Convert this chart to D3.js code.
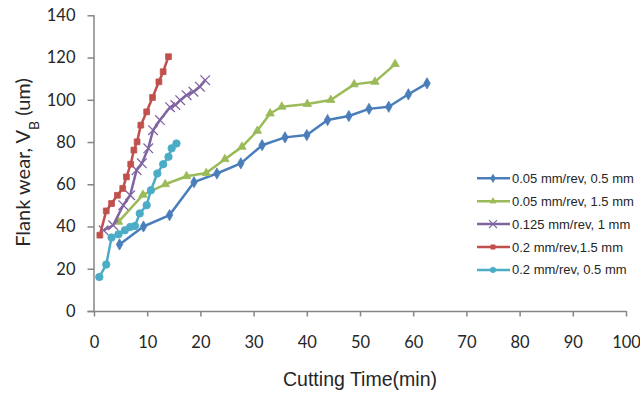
<!DOCTYPE html>
<html><head><meta charset="utf-8">
<script src="https://cdn.jsdelivr.net/npm/d3@7"></script>
<style>body{margin:0;background:#fff}svg{display:block}</style>
</head><body>
<svg id="c" width="640" height="396"></svg>
<script>
const seriesNames = ["0.05 mm/rev, 0.5 mm","0.05 mm/rev, 1.5 mm","0.125 mm/rev, 1 mm","0.2 mm/rev,1.5 mm","0.2 mm/rev, 0.5 mm"];
const seriesColors = ["#4A7EBB","#9BBB59","#8064A2","#C0504D","#4BACC6"];
const seriesSymbols = ["diamond","triangle","x","square","circle"];

const blueT = [4.8,9.3,14.2,18.8,23.1,27.6,31.6,35.9,40.0,43.9,47.9,51.7,55.4,59.1,62.6];
const blueV = [31.5,40,45.4,61,65.1,69.9,78.5,82.2,83.3,90.4,92.3,95.7,96.7,102.6,107.8];
const greenT = [4.6,9.2,13.4,17.4,21.1,24.6,27.8,30.7,33.1,35.3,40.1,44.5,48.9,52.8,56.6];
const greenV = [42.2,55,60,63.8,65.3,71.9,77.7,85.3,93.5,96.7,98,99.9,107.3,108.5,116.9];
const purpleT = [1.8,3.6,5.5,6.8,8.0,9.0,10.2,11.1,12.4,14.3,15.3,16.2,17.4,18.7,19.9,20.9];
const purpleV = [38.2,40.6,50.1,54.8,66.7,69.9,77,85.6,90.4,96.5,97.5,99.8,102.2,103.8,106.2,109.3];
const redT = [1.1,2.3,3.3,4.4,5.4,6.1,6.9,7.5,8.1,8.8,9.9,11.0,12.2,13.0,14.0];
const redV = [35.9,47.4,50.9,54.8,58,63.5,69.5,76.2,80.1,88,94.3,101.1,108.5,113.3,120.4];
const cyanT = [1.0,2.3,3.3,4.6,5.8,6.8,7.7,8.6,9.9,10.7,11.9,13.0,14.0,14.6,15.5];
const cyanV = [16.1,22,34.8,36.3,38.2,39.8,40.3,46.2,50.1,57.2,65.1,69.5,73,77,79.3];

const xTicks = [0,10,20,30,40,50,60,70,80,90,100];
const yTicks = [0,20,40,60,80,100,120,140];
const xTitle = "Cutting Time(min)";

const seriesT = [blueT,greenT,purpleT,redT,cyanT];
const seriesV = [blueV,greenV,purpleV,redV,cyanV];
const series = seriesNames.map((n,i)=>({name:n,color:seriesColors[i],sym:seriesSymbols[i],
  pts:seriesT[i].map((t,j)=>[t,seriesV[i][j]])}));

const svg = d3.select("#c");
const x = d3.scaleLinear().domain([0,100]).range([94,626]);
const y = d3.scaleLinear().domain([0,140]).range([311,15.3]);
const axisColor = "#868686";
const tickFont = "Lato, 'Open Sans', sans-serif";

// axes
const xa = svg.append("g").attr("transform","translate(0,311)")
  .call(d3.axisBottom(x).tickValues(xTicks).tickSize(5.5).tickSizeOuter(0).tickPadding(20));
const ya = svg.append("g").attr("transform","translate(94,0)")
  .call(d3.axisLeft(y).tickValues(yTicks).tickSize(6.5).tickSizeOuter(0).tickPadding(12));
[xa,ya].forEach(a=>{
  a.selectAll("path,line").attr("stroke",axisColor).attr("stroke-width",1.5);
  a.selectAll("text").attr("fill","#262626").style("font-family",tickFont).style("font-size","16.5px");
});
xa.select(".domain").attr("d","M87.5,0.5H626");
ya.select(".domain").attr("d","M0,311H0V15.3");

// titles
svg.append("text").attr("x",360).attr("y",386).attr("text-anchor","middle")
  .attr("textLength",154).attr("lengthAdjust","spacingAndGlyphs")
  .style("font-family","'Liberation Sans', Arial, sans-serif").style("font-size","20px").attr("fill","#262626")
  .text(xTitle);
const yt = svg.append("text").attr("transform","translate(30,162.5) rotate(-90)").attr("text-anchor","middle")
  .style("font-family",tickFont).style("font-size","20px").attr("fill","#262626");
yt.append("tspan").text("Flank wear, V");
yt.append("tspan").attr("baseline-shift","sub").style("font-size","14px").text("B");
yt.append("tspan").text(" (um)");

function drawMarker(g, sym, cx, cy, color, s) {
  if (sym==="x") {
    g.append("path").attr("d",`M${cx-s},${cy-s}L${cx+s},${cy+s}M${cx-s},${cy+s}L${cx+s},${cy-s}`)
      .attr("stroke",color).attr("stroke-width",1.3).attr("fill","none");
    return;
  }
  const map = {diamond:d3.symbolDiamond, triangle:d3.symbolTriangle, square:d3.symbolSquare, circle:d3.symbolCircle};
  const size = {diamond:s*s*2.8, triangle:s*s*2.4, square:s*s*2.6, circle:s*s*3.4}[sym];
  g.append("path").attr("d",d3.symbol().type(map[sym]).size(size)())
    .attr("transform",`translate(${cx},${cy})`).attr("fill",color).attr("stroke",color).attr("stroke-width",0.8);
}

const line = d3.line().x(d=>x(d[0])).y(d=>y(d[1]));
series.forEach(s=>{
  const g = svg.append("g");
  g.append("path").attr("d",line(s.pts)).attr("fill","none").attr("stroke",s.color)
    .attr("stroke-width",2.5).attr("stroke-linejoin","round");
  s.pts.forEach(p=>drawMarker(g,s.sym,x(p[0]),y(p[1]),s.color,s.sym==="x"?4.8:3.6));
});

// legend
const leg = svg.append("g");
series.forEach((s,i)=>{
  const yy = 178.3 + i*22.9;
  leg.append("line").attr("x1",477).attr("x2",510).attr("y1",yy).attr("y2",yy)
    .attr("stroke",s.color).attr("stroke-width",2.5);
  drawMarker(leg,s.sym,493,yy,s.color,s.sym==="x"?4:2.6);
  leg.append("text").attr("x",512).attr("y",yy+4.5)
    .style("font-family","'Liberation Sans', Arial, sans-serif").style("font-size","13px").attr("fill","#262626")
    .text(s.name);
});
</script>
</body></html>
